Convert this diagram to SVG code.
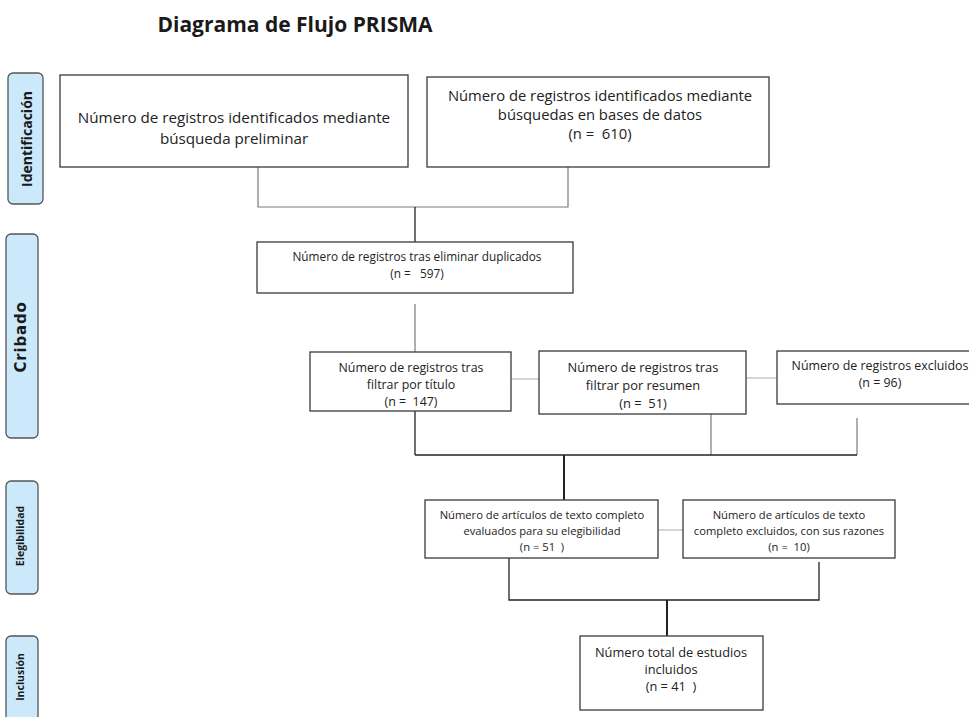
<svg xmlns="http://www.w3.org/2000/svg" width="969" height="717" viewBox="0 0 969 717">
<style>
.bg{fill:#ffffff}
.box{fill:#ffffff;stroke:#3a3a3a;stroke-width:1.3}
.side{fill:#cce9fb;stroke:#555;stroke-width:1.3}
.t{font-family:"Open Sans","Liberation Sans",Arial,sans-serif;fill:#222;text-anchor:middle}
.sl{font-family:"Open Sans","Liberation Sans",sans-serif;font-weight:700;fill:#1a1a1a;text-anchor:middle;dominant-baseline:central}
.c1{fill:none;stroke:#222;stroke-width:1.3}
.c2{fill:none;stroke:#7a7a7a;stroke-width:1.2}
.c3{fill:none;stroke:#aaaaaa;stroke-width:1}
.c4{fill:none;stroke:#222;stroke-width:2}
</style>
<rect class="bg" x="0" y="0" width="969" height="717"/>
<text x="295" y="32" font-family="Open Sans, Liberation Sans, sans-serif" font-weight="700" font-size="21" fill="#1a1a1a" text-anchor="middle">Diagrama de Flujo PRISMA</text>

<g id="stages">
  <g id="stage-identificacion">
    <rect class="side" x="8" y="73" width="35" height="131" rx="5"/>
    <text class="sl" font-size="14" transform="translate(26,139) rotate(-90)">Identificación</text>
  </g>
  <g id="stage-cribado">
    <rect class="side" x="6" y="234" width="32" height="204" rx="5"/>
    <text class="sl" font-size="15" letter-spacing="0.8" style="font-family:'DejaVu Sans',sans-serif" transform="translate(21,337) rotate(-90)">Cribado</text>
  </g>
  <g id="stage-elegibilidad">
    <rect class="side" x="6" y="481" width="32" height="113" rx="5"/>
    <text class="sl" font-size="10.5" transform="translate(20,536) rotate(-90)">Elegibilidad</text>
  </g>
  <g id="stage-inclusion">
    <rect class="side" x="6" y="636" width="32" height="90" rx="5"/>
    <text class="sl" font-size="10.5" transform="translate(20,677) rotate(-90)">Inclusión</text>
  </g>
</g>

<g id="connectors">
  <polyline class="c2" points="258,167 258,207 568,207 568,167"/>
  <line class="c1" x1="415" y1="207" x2="415" y2="242"/>
  <line class="c2" x1="415" y1="304" x2="415" y2="352"/>
  <line class="c3" x1="511" y1="379" x2="539" y2="379"/>
  <line class="c3" x1="746" y1="378" x2="777" y2="378"/>
  <line class="c1" x1="415" y1="411" x2="415" y2="455"/>
  <line class="c2" x1="711" y1="414" x2="711" y2="455"/>
  <line class="c2" x1="857" y1="418" x2="857" y2="455"/>
  <line class="c1" x1="415" y1="455" x2="857" y2="455"/>
  <line class="c4" x1="564" y1="455" x2="564" y2="500"/>
  <line class="c3" x1="658" y1="530" x2="683" y2="530"/>
  <polyline class="c1" points="509,558 509,600 819,600 819,562"/>
  <line class="c4" x1="667" y1="600" x2="667" y2="636"/>
</g>

<g id="n-preliminar">
  <rect class="box" x="60" y="75" width="348" height="92"/>
  <text class="t" font-size="15.2" x="234" y="123">Número de registros identificados mediante</text>
  <text class="t" font-size="15.2" x="234" y="144">búsqueda preliminar</text>
</g>
<g id="n-bases">
  <rect class="box" x="427" y="77" width="342" height="90"/>
  <text class="t" font-size="14.8" x="600" y="101">Número de registros identificados mediante</text>
  <text class="t" font-size="14.8" x="600" y="120">búsquedas en bases de datos</text>
  <text class="t" font-size="14.8" x="600" y="139" xml:space="preserve">(n =  610)</text>
</g>
<g id="n-duplicados">
  <rect class="box" x="257" y="242" width="316" height="51"/>
  <text class="t" font-size="11.8" x="417" y="261">Número de registros tras eliminar duplicados</text>
  <text class="t" font-size="11.8" x="417" y="278" xml:space="preserve">(n =   597)</text>
</g>
<g id="n-titulo">
  <rect class="box" x="310" y="352" width="201" height="59"/>
  <text class="t" font-size="12.4" x="411" y="372">Número de registros tras</text>
  <text class="t" font-size="12.4" x="411" y="389">filtrar por título</text>
  <text class="t" font-size="12.4" x="411" y="406" xml:space="preserve">(n =  147)</text>
</g>
<g id="n-resumen">
  <rect class="box" x="539" y="351" width="207" height="63"/>
  <text class="t" font-size="12.9" x="643" y="372">Número de registros tras</text>
  <text class="t" font-size="12.9" x="643" y="390">filtrar por resumen</text>
  <text class="t" font-size="12.9" x="643" y="408" xml:space="preserve">(n =  51)</text>
</g>
<g id="n-excluidos">
  <rect class="box" x="777" y="351" width="200" height="53"/>
  <text class="t" font-size="12.4" x="880" y="370">Número de registros excluidos</text>
  <text class="t" font-size="12.4" x="880" y="387">(n = 96)</text>
</g>
<g id="n-evaluados">
  <rect class="box" x="425" y="500" width="233" height="58"/>
  <text class="t" font-size="11.2" x="542" y="519">Número de artículos de texto completo</text>
  <text class="t" font-size="11.2" x="542" y="535">evaluados para su elegibilidad</text>
  <text class="t" font-size="11.2" x="542" y="551" xml:space="preserve">(n = 51  )</text>
</g>
<g id="n-excluidos-texto">
  <rect class="box" x="683" y="500" width="212" height="58"/>
  <text class="t" font-size="11.2" x="789" y="519">Número de artículos de texto</text>
  <text class="t" font-size="11.2" x="789" y="535">completo excluidos, con sus razones</text>
  <text class="t" font-size="11.2" x="789" y="551" xml:space="preserve">(n =  10)</text>
</g>
<g id="n-incluidos">
  <rect class="box" x="580" y="636" width="183" height="74"/>
  <text class="t" font-size="12.8" x="671" y="657">Número total de estudios</text>
  <text class="t" font-size="12.8" x="671" y="674">incluidos</text>
  <text class="t" font-size="12.8" x="671" y="691" xml:space="preserve">(n = 41  )</text>
</g>
</svg>
